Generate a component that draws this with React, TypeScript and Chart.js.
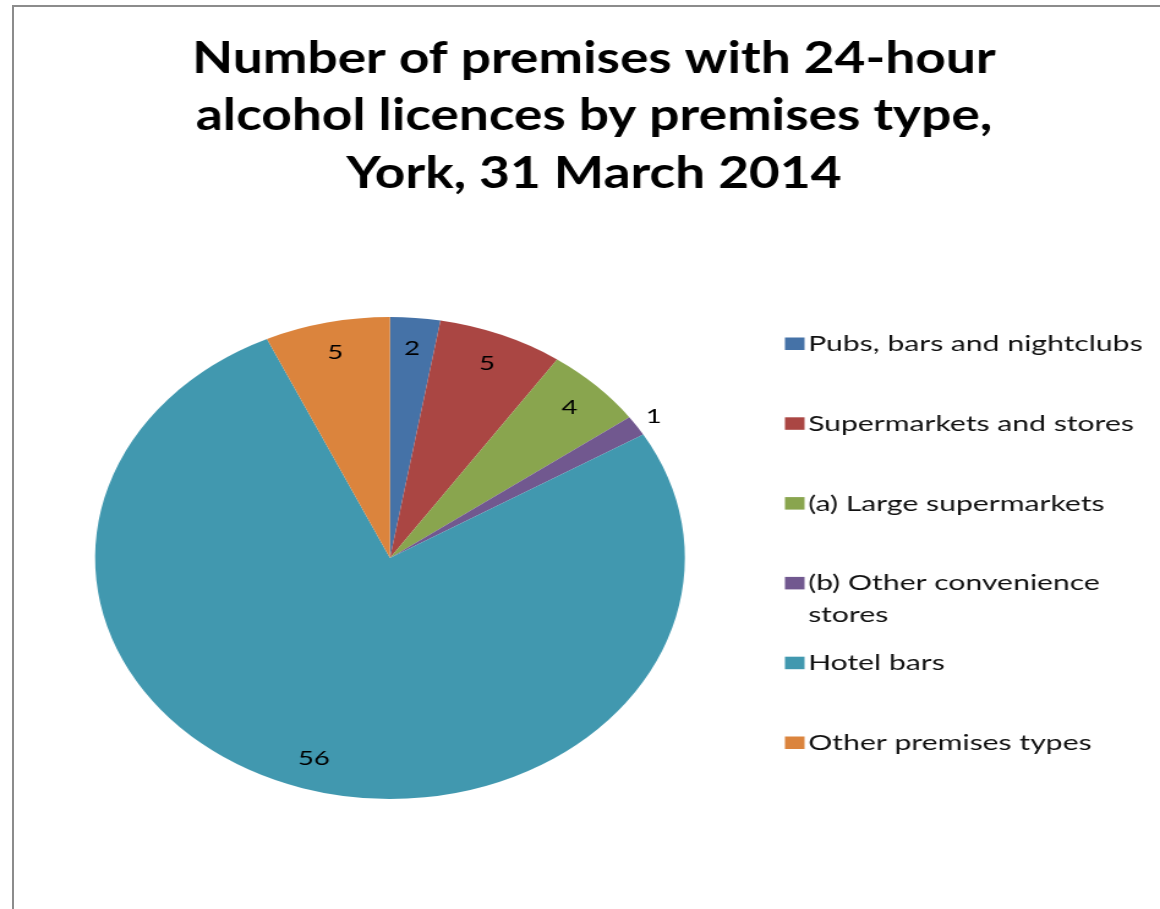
import React, { useEffect, useRef } from 'react';
import { Chart, registerables, layouts } from 'chart.js';

Chart.register(...registerables);

// ---- data ----
const CATEGORIES = [
  'Pubs, bars and nightclubs',
  'Supermarkets and stores',
  '(a) Large supermarkets',
  '(b) Other convenience stores',
  'Hotel bars',
  'Other premises types',
];
const LEGEND_LINES = [
  ['Pubs, bars and nightclubs'],
  ['Supermarkets and stores'],
  ['(a) Large supermarkets'],
  ['(b) Other convenience', 'stores'],
  ['Hotel bars'],
  ['Other premises types'],
];
const VALUES = [2, 5, 4, 1, 56, 5];
const COLORS = ['#4572A7', '#AA4643', '#89A54E', '#71588F', '#4198AF', '#DB843D'];
const TITLE_LINES = [
  'Number of premises with 24-hour',
  'alcohol licences by premises type,',
  'York, 31 March 2014',
];

// ---- layout (logical canvas, stretched horizontally) ----
const LOGICAL_W = 948;
const H = 909;
const SX = 1160 / LOGICAL_W;
const LEGEND_BOX_W = 333.5;
const FONT = 'Lato, "Open Sans", sans-serif';
const TEXT_STRETCH = 1.12;

const sliceLabels = {
  id: 'sliceLabels',
  afterDatasetsDraw(chart: any) {
    const ctx = chart.ctx;
    const meta = chart.getDatasetMeta(0);
    const data = chart.data.datasets[0].data as number[];
    const total = data.reduce((a, b) => a + b, 0);
    ctx.save();
    ctx.font = `20px ${FONT}`;
    ctx.fillStyle = '#000';
    ctx.textAlign = 'center';
    ctx.textBaseline = 'middle';
    meta.data.forEach((arc: any, i: number) => {
      const p = arc.getProps(['x', 'y', 'startAngle', 'endAngle', 'outerRadius'], true);
      const mid = (p.startAngle + p.endAngle) / 2;
      const frac = data[i] / total;
      const d = frac < 0.02 ? p.outerRadius + 17 : p.outerRadius * 0.871;
      const x = p.x + Math.cos(mid) * d;
      const y = p.y + Math.sin(mid) * d;
      ctx.save();
      ctx.translate(x, y);
      ctx.scale(TEXT_STRETCH, 1);
      ctx.fillText(String(data[i]), 0, 0);
      ctx.restore();
    });
    ctx.restore();
  },
};

const sideLegend = {
  id: 'sideLegend',
  beforeInit(chart: any) {
    const box: any = {
      position: 'right',
      weight: 10,
      fullSize: false,
      options: {},
      top: 0, left: 0, right: 0, bottom: 0, width: 0, height: 0,
      isHorizontal() { return false; },
      update(_mw: number, maxHeight: number) {
        this.width = LEGEND_BOX_W;
        this.height = maxHeight;
      },
      draw() {
        const ctx = chart.ctx;
        const ds = chart.data.datasets[0];
        ctx.save();
        ctx.font = `22px ${FONT}`;
        ctx.textAlign = 'left';
        ctx.textBaseline = 'alphabetic';
        LEGEND_LINES.forEach((lines, i) => {
          const base = 351 + 79.8 * i;
          ctx.fillStyle = (ds.backgroundColor as string[])[i];
          ctx.fillRect(this.left + 27, base - 13.5, 16, 12.5);
          ctx.fillStyle = '#111';
          lines.forEach((t, j) => {
            ctx.save();
            ctx.translate(this.left + 45.9, base + j * 31.7);
            ctx.scale(TEXT_STRETCH, 1);
            ctx.fillText(t, 0, 0);
            ctx.restore();
          });
        });
        ctx.restore();
      },
    };
    layouts.addBox(chart, box);
  },
};

export default function App() {
  const ref = useRef<HTMLCanvasElement | null>(null);

  useEffect(() => {
    if (!ref.current) return;
    const chart = new Chart(ref.current, {
      type: 'pie',
      data: {
        labels: CATEGORIES,
        datasets: [
          {
            data: VALUES,
            backgroundColor: COLORS,
            borderWidth: 0,
          },
        ],
      },
      options: {
        responsive: false,
        animation: false,
        layout: { padding: { left: 22.9, right: 0, top: 0, bottom: 110 } },
        plugins: {
          legend: { display: false },
          tooltip: { enabled: false },
          title: {
            display: true,
            text: TITLE_LINES,
            color: '#000',
            font: { family: FONT, size: 43.5, weight: 'bold', lineHeight: 57.5 / 43.5 },
            padding: { top: 29.75, bottom: 114.75 },
          },
        },
      },
      plugins: [sliceLabels, sideLegend],
    });
    return () => chart.destroy();
  }, []);

  return (
    <div>
      <div
        style={{
          position: 'absolute',
          left: 0,
          top: 0,
          width: LOGICAL_W,
          height: H,
          transform: `scaleX(${SX})`,
          transformOrigin: '0 0',
        }}
      >
        <canvas ref={ref} width={LOGICAL_W} height={H} style={{ display: 'block' }} />
      </div>
      <div
        style={{
          position: 'absolute',
          left: 12,
          top: 5,
          width: 1148,
          height: 904,
          borderLeft: '2px solid #8c8c8c',
          borderTop: '2px solid #8c8c8c',
          boxSizing: 'border-box',
          pointerEvents: 'none',
        }}
      />
    </div>
  );
}
